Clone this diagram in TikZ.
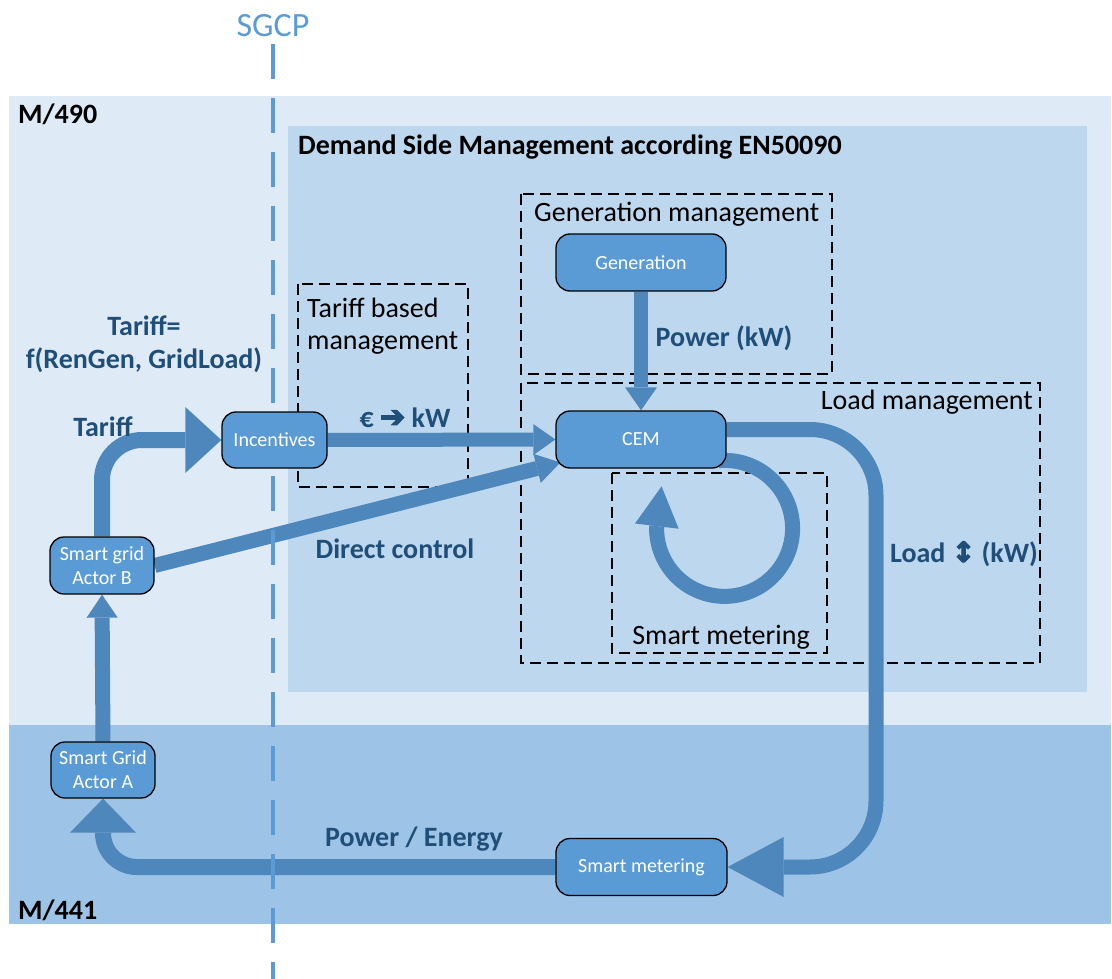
\documentclass[tikz,border=0pt]{standalone}
\usepackage{fontspec}
\setmainfont{Carlito}
\newfontfamily\dejavu{DejaVu Sans}
\newfontfamily\dejavuheavy[FakeBold=4]{DejaVu Sans}
\usetikzlibrary{arrows.meta}
\definecolor{bgA}{RGB}{222,235,247}
\definecolor{bgB}{RGB}{189,215,238}
\definecolor{bgC}{RGB}{157,195,230}
\definecolor{nodeblue}{RGB}{91,155,213}
\definecolor{arrowblue}{RGB}{78,135,187}
\definecolor{labelblue}{RGB}{31,78,121}
\pgfdeclarelayer{back}
\pgfdeclarelayer{flows}
\pgfdeclarelayer{sgcp}
\pgfsetlayers{back,flows,sgcp,main}
\begin{document}
\begin{tikzpicture}[x=1pt,y=-1pt,
  box/.style={draw=black, line width=1.3pt, fill=nodeblue, rounded corners=14pt, text=white,
    font=\fontsize{20}{24}\selectfont, align=center, inner sep=0pt},
  zone/.style={draw=black, line width=1.5pt, dash pattern=on 11pt off 6pt},
  flow/.style={draw=arrowblue, line width=15pt},
  lbl/.style={text=labelblue, font=\fontsize{28}{33}\selectfont\bfseries, align=center, inner sep=0pt, anchor=base},
  ttl/.style={text=black, font=\fontsize{28}{32}\selectfont, inner sep=0pt, anchor=base west},
]
\useasboundingbox (0,0) rectangle (1112,979);
\begin{pgfonlayer}{back}
\fill[white] (0,0) rectangle (1112,979);
\fill[bgA] (9,96) rectangle (1111,725);
\fill[bgC] (9,725) rectangle (1111,924);
\fill[bgB] (288,126) rectangle (1087,692);
\draw[zone] (298,284) rectangle (468,487);
\draw[zone] (521,194) rectangle (832,374);
\draw[zone] (521,383) rectangle (1040,663);
\draw[zone] (612,473) rectangle (827,653);
\end{pgfonlayer}

% nodes
\node[box, minimum width=105pt, minimum height=56pt] (inc) at (274.5,440) {Incentives};
\node[box, minimum width=170pt, minimum height=57pt] (gen) at (641,262.5) {Generation};
\node[box, minimum width=170pt, minimum height=57pt] (cem) at (641,439.5) {CEM};
\node[box, minimum width=104pt, minimum height=57pt] (actb) at (102,565.5) {Smart grid\\Actor B};
\node[box, minimum width=104pt, minimum height=56pt] (acta) at (103,770) {Smart Grid\\Actor A};
\node[box, minimum width=171pt, minimum height=57pt] (smm) at (641.5,867) {Smart metering};
\coordinate (loadx) at (876,650);

\begin{pgfonlayer}{flows}
\draw[flow, line width=16pt, rounded corners=40pt, -{Triangle[width=66pt,length=36pt,line width=0pt]}] (actb.north) |- (inc.west);
\draw[flow, line width=14pt, -{Triangle[width=31pt,length=22pt,line width=0pt]}] (inc.east) -- (cem.west);
\draw[flow, -{Triangle[width=30pt,length=24pt,line width=0pt]}] (actb.east) -- ([xshift=5pt,yshift=-23pt]cem.west);
\draw[flow, line width=14pt, -{Triangle[width=32pt,length=23pt,line width=0pt]}] (gen.south) -- (cem.north);
\draw[flow, rounded corners=66pt, -{Triangle[width=60pt,length=56pt,line width=0pt]}] ([yshift=10pt]cem.east) -| (loadx) |- (smm.east);
\draw[flow, line width=16pt, rounded corners=34pt, -{Triangle[width=66pt,length=34pt,line width=0pt]}] (smm.west) -| (acta.south);
\draw[flow, -{Triangle[width=31pt,length=23pt,line width=0pt]}] (acta.north) -- (actb.south);
\draw[flow, -{Triangle[width=44pt,length=40pt,line width=0pt]}] ([xshift=-8pt,yshift=8pt]cem.south east) arc[start angle=95, end angle=-180, radius=68pt] -- ++(5,-42);
\end{pgfonlayer}

\begin{pgfonlayer}{sgcp}
\draw[nodeblue, line width=4pt, dash pattern=on 35pt off 19pt] (273,44) -- (273,979);
\end{pgfonlayer}

% texts
\node[text=nodeblue, font=\fontsize{34}{40}\selectfont, inner sep=0pt, anchor=base] (sgcp) at (273,37) {SGCP};
\node[ttl, font=\fontsize{28}{32}\selectfont\bfseries] (m490) at (18,124) {M/490};
\node[ttl, font=\fontsize{28}{32}\selectfont\bfseries] (m441) at (18,919) {M/441};
\node[ttl, font=\fontsize{28}{32}\selectfont\bfseries] (dsm) at (298,155) {Demand Side Management according EN50090};
\node[ttl] (genm) at (534,222) {Generation management};
\node[ttl] (tbm1) at (307,317) {Tariff based};
\node[ttl] (tbm2) at (307,349) {management};
\node[ttl, anchor=base east] (ldm) at (1033,409) {Load management};
\node[ttl, anchor=base] (smtxt) at (721,644) {Smart metering};

\node[lbl] (tf1) at (144,335) {Tariff=};
\node[lbl] (tf2) at (144,368) {f(RenGen, GridLoad)};
\node[lbl] (tr) at (103,436) {Tariff};
\node[lbl] (ek) at (405,427) {€ {\dejavuheavy\fontsize{30}{33}\selectfont ➔} kW};
\node[lbl] (pw) at (724,346) {Power (kW)};
\node[lbl] (dc) at (395,558) {Direct control};
\node[lbl] (ld) at (964,562) {Load {\dejavuheavy ↕} (kW)};
\node[lbl] (pe) at (414,846) {Power / Energy};
\end{tikzpicture}
\end{document}
